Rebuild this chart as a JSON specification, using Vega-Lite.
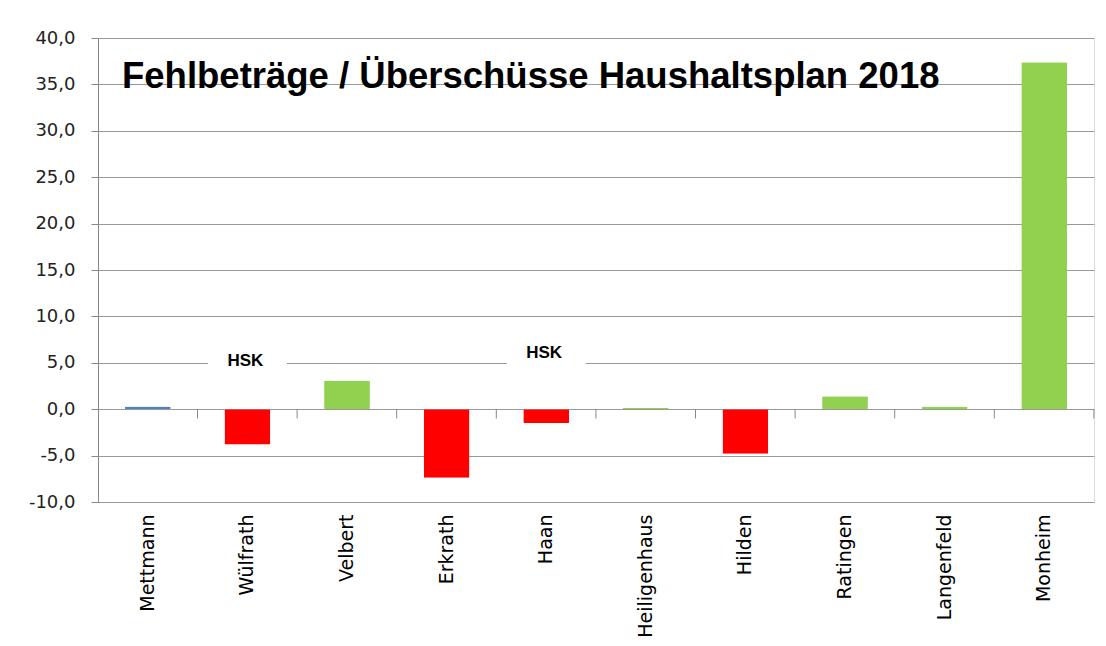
{
  "$schema": "https://vega.github.io/schema/vega-lite/v6.json",
  "autosize": {"type": "none"},
  "width": 996,
  "height": 464,
  "padding": {"left": 98, "top": 38, "right": 12, "bottom": 144},
  "background": "white",
  "title": {
    "text": "Fehlbeträge / Überschüsse Haushaltsplan 2018",
    "anchor": "start",
    "frame": "group",
    "orient": "top",
    "offset": -44,
    "baseline": "alphabetic",
    "dx": 24,
    "dy": 51,
    "font": "Liberation Sans",
    "fontSize": 36.5,
    "fontWeight": "bold",
    "color": "black"
  },
  "datasets": {
    "staedte": [
      {"stadt": "Mettmann", "wert": 0.3, "typ": "Kreis"},
      {"stadt": "Wülfrath", "wert": -3.8, "typ": "Fehlbetrag"},
      {"stadt": "Velbert", "wert": 3.1, "typ": "Überschuss"},
      {"stadt": "Erkrath", "wert": -7.4, "typ": "Fehlbetrag"},
      {"stadt": "Haan", "wert": -1.5, "typ": "Fehlbetrag"},
      {"stadt": "Heiligenhaus", "wert": 0.15, "typ": "Überschuss"},
      {"stadt": "Hilden", "wert": -4.8, "typ": "Fehlbetrag"},
      {"stadt": "Ratingen", "wert": 1.4, "typ": "Überschuss"},
      {"stadt": "Langenfeld", "wert": 0.3, "typ": "Überschuss"},
      {"stadt": "Monheim", "wert": 37.4, "typ": "Überschuss"}
    ],
    "hsk": [
      {"stadt": "Wülfrath", "label": "HSK", "pos": 5.2},
      {"stadt": "Haan", "label": "HSK", "pos": 6.1}
    ]
  },
  "resolve": {"axis": {"x": "independent"}},
  "layer": [
    {
      "data": {"name": "staedte"},
      "mark": {"type": "bar", "cornerRadius": 1},
      "encoding": {
        "x": {
          "field": "stadt",
          "type": "nominal",
          "sort": ["Mettmann", "Wülfrath", "Velbert", "Erkrath", "Haan", "Heiligenhaus", "Hilden", "Ratingen", "Langenfeld", "Monheim"],
          "scale": {"paddingInner": 0.54, "paddingOuter": 0.27},
          "title": null,
          "axis": {
            "orient": "bottom",
            "domain": false,
            "ticks": false,
            "grid": false,
            "labelAngle": -90,
            "labelAlign": "right",
            "labelBaseline": "middle",
            "labelPadding": 12,
            "labelFont": "DejaVu Sans",
            "labelFontSize": 19,
            "labelColor": "black"
          }
        },
        "y": {
          "field": "wert",
          "type": "quantitative",
          "scale": {"domain": [-10, 40], "nice": false},
          "title": null,
          "axis": {
            "values": [-10, -5, 0, 5, 10, 15, 20, 25, 30, 35, 40],
            "labelExpr": "replace(replace(format(datum.value, '.1f'), '.', ','), '\u2212', '-')",
            "labelFont": "DejaVu Sans",
            "labelFontSize": 18,
            "labelColor": "#222",
            "labelPadding": 16,
            "tickSize": 7,
            "tickColor": "#888",
            "domainColor": "#888",
            "gridColor": "#999",
            "grid": true
          }
        },
        "color": {
          "field": "typ",
          "type": "nominal",
          "scale": {"domain": ["Kreis", "Fehlbetrag", "Überschuss"], "range": ["#4F81BD", "#FF0000", "#92D050"]},
          "legend": null
        }
      }
    },
    {
      "mark": {"type": "rule", "color": "#888", "strokeWidth": 1},
      "encoding": {
        "y": {"datum": 0, "type": "quantitative"}
      }
    },
    {
      "data": {"name": "staedte"},
      "mark": {"type": "rule", "color": "#888", "strokeWidth": 1},
      "encoding": {
        "x": {
          "field": "stadt",
          "type": "nominal",
          "sort": ["Mettmann", "Wülfrath", "Velbert", "Erkrath", "Haan", "Heiligenhaus", "Hilden", "Ratingen", "Langenfeld", "Monheim"],
          "bandPosition": 1.585,
          "axis": null
        },
        "y": {"datum": 0, "type": "quantitative"},
        "y2": {"datum": -1}
      }
    },
    {
      "data": {"name": "hsk"},
      "mark": {"type": "bar", "color": "white", "width": {"band": 1.72}},
      "encoding": {
        "x": {"field": "stadt", "type": "nominal", "axis": null, "sort": ["Mettmann", "Wülfrath", "Velbert", "Erkrath", "Haan", "Heiligenhaus", "Hilden", "Ratingen", "Langenfeld", "Monheim"]},
        "y": {"datum": 4.5, "type": "quantitative"},
        "y2": {"datum": 5.5}
      }
    },
    {
      "data": {"name": "hsk"},
      "mark": {"type": "text", "font": "Liberation Sans", "fontSize": 17, "fontWeight": "bold", "color": "black", "dx": -2},
      "encoding": {
        "x": {"field": "stadt", "type": "nominal", "axis": null, "sort": ["Mettmann", "Wülfrath", "Velbert", "Erkrath", "Haan", "Heiligenhaus", "Hilden", "Ratingen", "Langenfeld", "Monheim"]},
        "y": {"field": "pos", "type": "quantitative"},
        "text": {"field": "label"}
      }
    }
  ]
}
